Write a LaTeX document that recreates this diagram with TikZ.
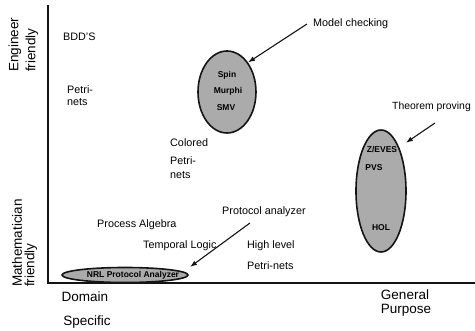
\documentclass[tikz,border=0pt]{standalone}
\usepackage{fontspec}
\setmainfont{Liberation Sans}
\usetikzlibrary{arrows.meta,shapes.geometric}
\definecolor{ink}{HTML}{141414}
\definecolor{blobfill}{HTML}{ABABAB}

\begin{document}
\begin{tikzpicture}[x=1pt,y=-1pt,
  lbl/.style={font=\fontsize{10.8}{12}\selectfont,anchor=west,inner sep=0pt},
  ax/.style={font=\fontsize{13.5}{15}\selectfont,inner sep=0pt},
  blob/.style={ellipse,draw=ink,line width=1.6pt,fill=blobfill,inner sep=0pt},
  tool/.style={font=\fontsize{8.5}{10}\selectfont\bfseries,inner sep=0pt},
  arr/.style={draw=ink,line width=1.1pt,-{Latex[length=7pt,width=5pt]}}
]
  \useasboundingbox (0,0) rectangle (475,331);
  % axes
  \coordinate (ytop) at (48,5);
  \coordinate (orig) at (48,283);
  \coordinate (xend) at (475,283);
  \draw[ink,line width=1.2pt] (ytop) -- (orig) -- (xend);
  \node[ax,rotate=90,anchor=west] (eng)   at (15,72)  {Engineer};
  \node[ax,rotate=90,anchor=west] (engf)  at (32,72)  {friendly};
  \node[ax,rotate=90,anchor=west] (math)  at (17,287) {Mathematician};
  \node[ax,rotate=90,anchor=west] (mathf) at (31,287) {friendly};
  \node[ax] (dom)  at (85,297)  {Domain};
  \node[ax] (spec) at (87,322)  {Specific};
  \node[ax] (gen)  at (405,295) {General};
  \node[ax] (purp) at (406,310) {Purpose};

  % the three groups of tools
  \node[blob,minimum width=58pt,minimum height=82pt]  (mcell)  at (227,92)  {};
  \node[blob,minimum width=50pt,minimum height=122pt] (tpell)  at (381,191) {};
  \node[blob,minimum width=126pt,minimum height=15pt] (nrlell) at (125,275) {};
  \node[tool] (spin)   at (227,75)  {Spin};
  \node[tool] (murphi) at (228,91)  {Murphi};
  \node[tool] (smv)    at (226,108) {SMV};
  \node[tool] (zeves)  at (382,150) {Z/EVES};
  \node[tool] (pvs)    at (374,168) {PVS};
  \node[tool] (hol)    at (381,228) {HOL};
  \node[tool] (nrl)    at (133,275) {NRL Protocol Analyzer};

  % labels
  \node[lbl] (bdd)    at (63,37)   {BDD'S};
  \node[lbl] (pn1)    at (67,90)   {Petri-};
  \node[lbl] (pn2)    at (67,102)  {nets};
  \node[lbl] (cpn1)   at (170,143) {Colored};
  \node[lbl] (cpn2)   at (170,161) {Petri-};
  \node[lbl] (cpn3)   at (170,175) {nets};
  \node[lbl] (pa)     at (97,225)  {Process Algebra};
  \node[lbl] (tl)     at (143,246) {Temporal Logic};
  \node[lbl] (hl1)    at (247,246) {High level};
  \node[lbl] (hl2)    at (247,266) {Petri-nets};
  \node[lbl] (mc)     at (313,24)  {Model checking};
  \node[lbl,font=\fontsize{10.4}{12}\selectfont] (tp) at (392,107) {Theorem proving};
  \node[lbl] (prot)   at (222,212) {Protocol analyzer};

  % pointers
  \coordinate (tpfrom) at (435,123);
  \coordinate (pafrom) at (250,223);
  \coordinate (patip)  at (190,267);
  \draw[arr] ([xshift=-6pt]mc.west) -- (mcell.north east);
  \draw[arr,shorten >=8pt] (tpfrom) -- (tpell.north east);
  \draw[arr] (pafrom) -- (patip);
\end{tikzpicture}
\end{document}
